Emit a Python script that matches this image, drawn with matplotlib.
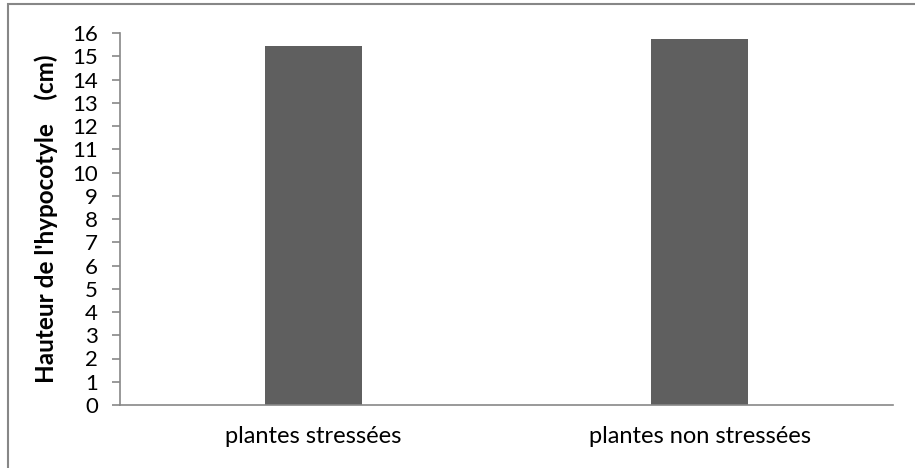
import matplotlib.pyplot as plt
from matplotlib.patches import Rectangle

categories = ["plantes stressées", "plantes non stressées"]
hauteurs = [15.45, 15.75]
yticks = list(range(0, 17))

plt.rcParams['font.family'] = ['Lato', 'DejaVu Sans']

fig = plt.figure(figsize=(9.15, 4.68), dpi=100)
# outer chart border (cropped on right and bottom)
fig.patches.append(Rectangle((8 / 915, -0.01), 1.0, 1 - 4 / 468 + 0.01,
                             transform=fig.transFigure, fill=False,
                             edgecolor="#878787", linewidth=1.5))

ax = fig.add_axes([120 / 915, 1 - 405 / 468, (893 - 120) / 915, (405 - 33) / 468])
x = list(range(len(categories)))
ax.bar(x, hauteurs, width=0.25, color="#5f5f5f")

ax.set_xlim(-0.5, 1.5)
ax.set_ylim(0, 16)
ax.set_yticks(yticks)
ax.set_yticklabels([str(t) for t in yticks], fontsize=16)
ax.set_xticks(x)
ax.set_xticklabels(categories, fontsize=17)
ax.tick_params(axis="x", length=0, pad=15)
ax.tick_params(axis="y", length=6, color="#878787", width=1.2, pad=10)

for side in ("top", "right"):
    ax.spines[side].set_visible(False)
for side in ("left", "bottom"):
    ax.spines[side].set_color("#878787")
    ax.spines[side].set_linewidth(1.2)

ax.set_ylabel("Hauteur de l'hypocotyle    (cm)", fontsize=17.5, fontweight="bold", labelpad=10)

fig.savefig("out.png", dpi=100)
